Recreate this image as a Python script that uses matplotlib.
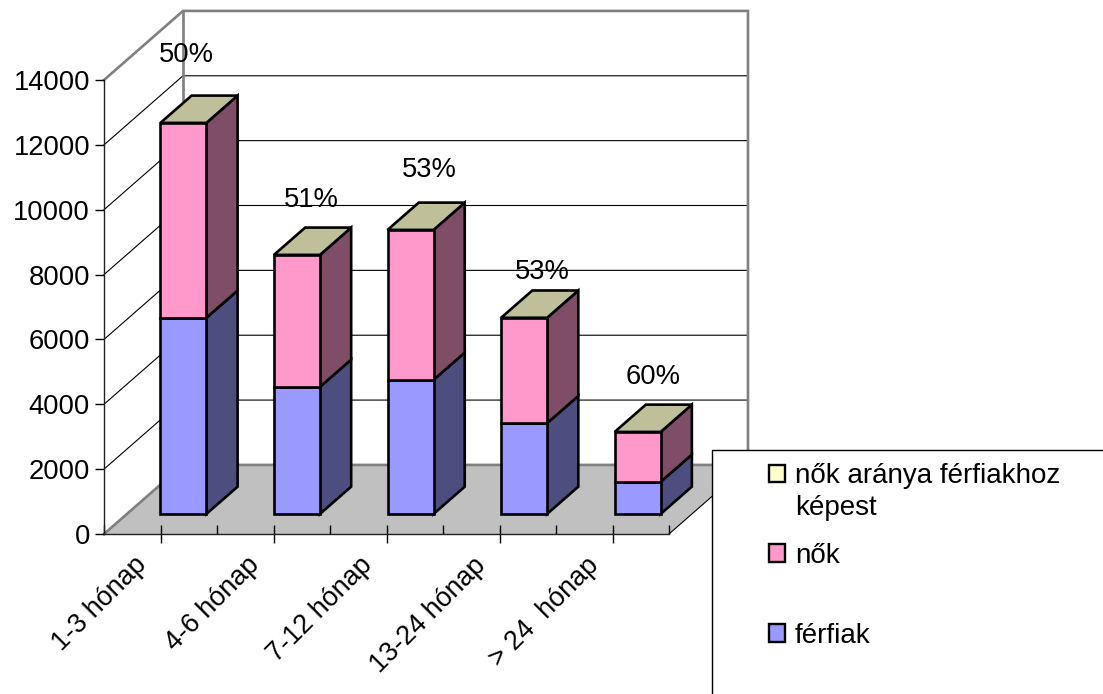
import matplotlib
matplotlib.use("Agg")
import matplotlib.pyplot as plt
from matplotlib.patches import Polygon, Patch, Rectangle
from matplotlib.transforms import ScaledTranslation

plt.rcParams['font.family'] = ['Liberation Sans', 'DejaVu Sans']

# data
categories = ['1-3 hónap', '4-6 hónap', '7-12 hónap', '13-24 hónap', '> 24  hónap']
ferfiak = [6050, 3920, 4135, 2800, 990]
nok = [6010, 4070, 4625, 3250, 1540]
arany = ['50%', '51%', '53%', '53%', '60%']
y_ticks = [0, 2000, 4000, 6000, 8000, 10000, 12000, 14000]

# where the percent labels sit relative to the front top edge of each bar
label_dx = [0.03, 0.125, 0.165, 0.165, 0.14]
label_dy = [2100, 1700, 1850, 1420, 1700]

# fake 3D: how far the back wall is shifted, in data units
DX = 0.699
DY = 2130
BAR_W = 0.407
BAR_START = 0.29
BAR_DEPTH = 0.395
BAR_STEP = 1.005

FS = 19.7
W, H = 1103, 694

fig = plt.figure(figsize=(W / 100, H / 100), dpi=100)
ax = fig.add_axes([104 / W, (H - 534) / H, (669 - 104) / W, (534 - 80) / H])
ax.set_xlim(0, len(categories))
ax.set_ylim(0, 14000)
ax.patch.set_visible(False)


def poly(pts, fc='none', ec='black', lw=1.9, z=3):
    ax.add_patch(Polygon(pts, closed=True, facecolor=fc, edgecolor=ec, linewidth=lw,
                         zorder=z, clip_on=False, joinstyle='miter'))


n = len(categories)

# floor
poly([(0, 0), (n, 0), (n + DX, DY), (DX, DY)], fc='#C0C0C0', ec='none', z=0.5)
ax.plot([0, DX, n + DX], [0, DY, DY], color='#808080', lw=1.9, zorder=0.7, clip_on=False)
ax.plot([n, n + DX], [0, DY], color='black', lw=0.8, zorder=0.7, clip_on=False)

# walls and gridlines
for t in y_ticks[1:-1]:
    ax.plot([0, DX, n + DX], [t, t + DY, t + DY], color='black', lw=0.8, zorder=0.6, clip_on=False)
ax.plot([0, DX, n + DX, n + DX], [14000, 14000 + DY, 14000 + DY, DY], color='#808080', lw=1.9,
        zorder=0.7, clip_on=False, solid_joinstyle='miter')
ax.plot([DX, DX], [DY, 14000 + DY], color='#808080', lw=1.9, zorder=0.7, clip_on=False)

# stacked bars
for i in range(n):
    x0 = i * BAR_STEP + 0.5 - BAR_W / 2 + BAR_START * DX
    x1 = x0 + BAR_W
    base = BAR_START * DY
    sx = BAR_DEPTH * DX
    sy = BAR_DEPTH * DY
    y1 = base + ferfiak[i]
    y2 = y1 + nok[i]
    z = 3 + i * 0.1
    poly([(x1, base), (x1 + sx, base + sy), (x1 + sx, y1 + sy), (x1, y1)], fc='#4D4D80', z=z)
    poly([(x1, y1), (x1 + sx, y1 + sy), (x1 + sx, y2 + sy), (x1, y2)], fc='#804D66', z=z)
    poly([(x0, y2), (x1, y2), (x1 + sx, y2 + sy), (x0 + sx, y2 + sy)], fc='#BFBF99', z=z)
    poly([(x0, base), (x1, base), (x1, y1), (x0, y1)], fc='#9999FF', z=z)
    poly([(x0, y1), (x1, y1), (x1, y2), (x0, y2)], fc='#FF99CC', z=z)
    ax.text((x0 + x1) / 2 + label_dx[i], y2 + label_dy[i], arany[i], fontsize=FS, color='black',
            ha='center', va='center', zorder=6, clip_on=False)

# axes
for s in ['top', 'right']:
    ax.spines[s].set_visible(False)
for s in ['left', 'bottom']:
    ax.spines[s].set_linewidth(1.0)
    ax.spines[s].set_color('#202020')
    ax.spines[s].set_zorder(2.5)

ax.set_yticks(y_ticks)
ax.tick_params(axis='y', direction='out', length=6.5, width=1.0, pad=3.5, labelsize=FS)
ax.set_xticks([i + 0.5 for i in range(n)])
ax.set_xticklabels(categories, rotation=45, ha='right', va='top', rotation_mode='anchor')
ax.set_xticks(list(range(n + 1)), minor=True)
ax.tick_params(axis='x', which='major', direction='inout', length=13, width=1.0, pad=8, labelsize=19.4)
ax.tick_params(axis='x', which='minor', direction='in', length=6.5, width=1.0)

# the labels sit further left than matplotlib would put them
shift = ScaledTranslation(-27 / 100, 2 / 100, fig.dpi_scale_trans)
for lab in ax.get_xticklabels():
    lab.set_transform(lab.get_transform() + shift)

# legend box runs off the figure on the right and at the bottom
fig.add_artist(Rectangle((712 / W, -0.1), 0.5, (H - 450) / H + 0.1, transform=fig.transFigure,
                         facecolor='white', edgecolor='black', linewidth=1.0, zorder=4))
handles = [Patch(facecolor='#FFFFCC', edgecolor='black', linewidth=1.7),
           Patch(facecolor='#FF99CC', edgecolor='black', linewidth=1.7),
           Patch(facecolor='#9999FF', edgecolor='black', linewidth=1.7)]
leg = fig.legend(handles, ['nők aránya férfiakhoz', 'nők', 'férfiak'], loc='upper left',
                 bbox_to_anchor=(769 / W, (H - 463) / H), frameon=False, fontsize=20,
                 borderpad=0, borderaxespad=0, handlelength=0.575, handleheight=0.575,
                 handletextpad=0.36, labelspacing=1.94)
leg.set_zorder(5)
fig.text(795 / W, (H - 508) / H, 'képest', fontsize=20, ha='left', va='center', zorder=5)

fig.savefig('out.png', dpi=100)
